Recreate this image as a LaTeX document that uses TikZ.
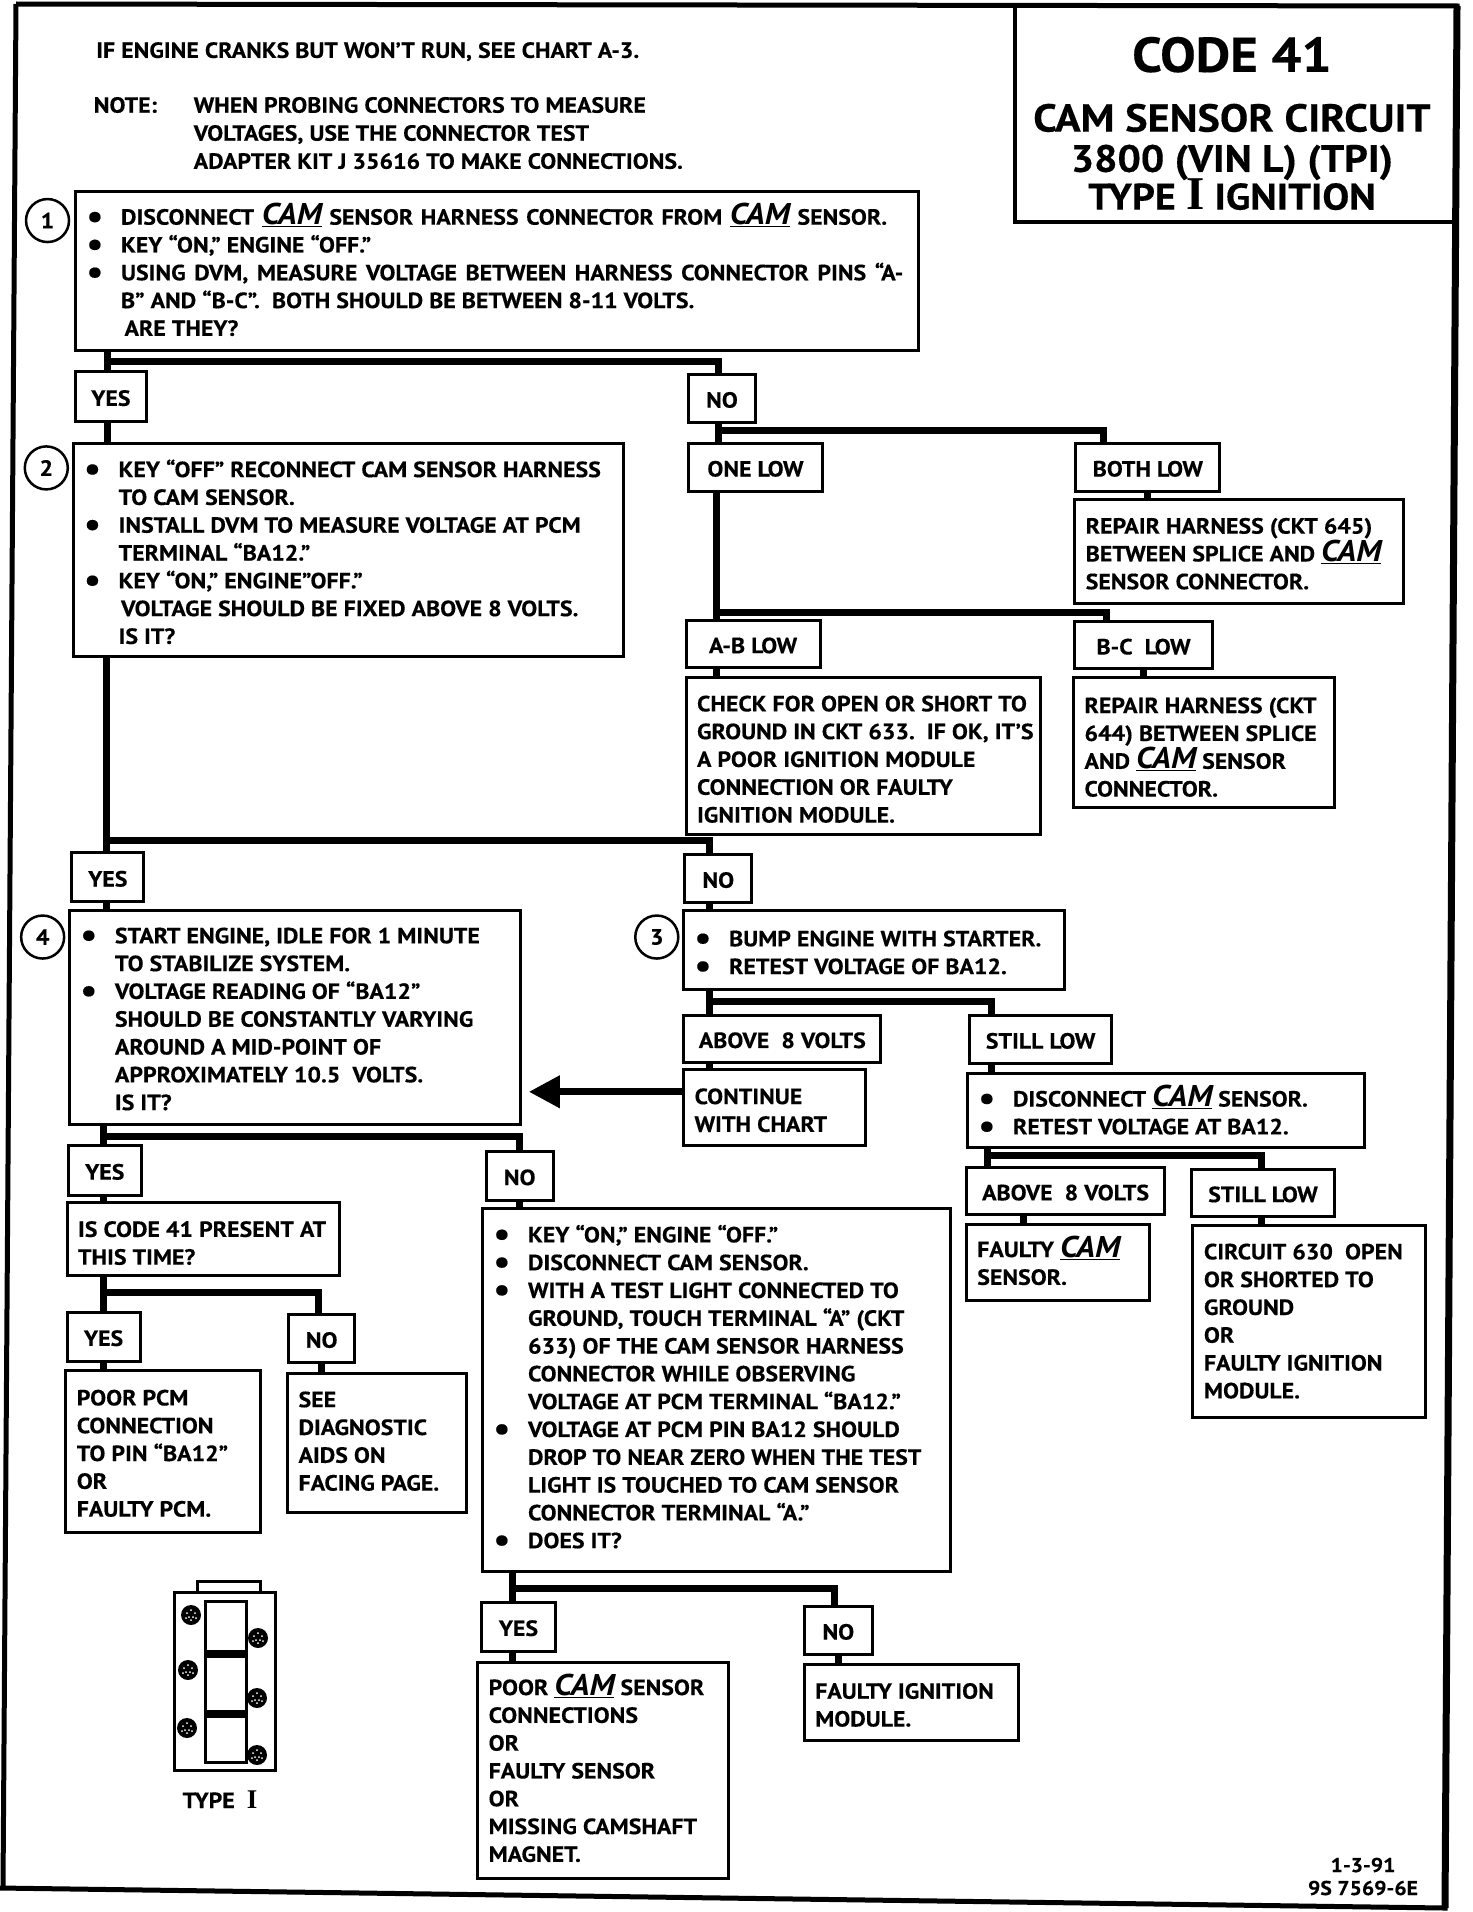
\documentclass[tikz,border=0pt]{standalone}
\usepackage{fontspec}
\setmainfont{PT Sans}[FakeStretch=1.085,BoldFeatures={FakeBold=0.35}]
\newfontfamily\serifI{Liberation Serif}
\usetikzlibrary{arrows.meta}
\newcommand{\cam}{\smash{\underline{\fontsize{30}{30}\selectfont\itshape CAM}}}
\newcommand{\bl}{\makebox[34.5pt][l]{\raisebox{-3pt}[0pt][0pt]{\fontsize{34}{34}\selectfont•}}}
\newcommand{\bi}{\hspace*{34.5pt}}
\tikzset{
 boxed/.style={draw=black,line width=3pt,fill=white,inner xsep=11pt,inner ysep=0pt,outer sep=0pt,font=\fontsize{22}{27.8}\selectfont\bfseries},
 lab/.style={draw=black,line width=3pt,fill=white,inner sep=0pt,outer sep=0pt,align=center,font=\fontsize{22}{27.8}\selectfont\bfseries},
 plain/.style={inner sep=0pt,outer sep=0pt,anchor=base west,font=\fontsize{22}{27.8}\selectfont\bfseries},
 ttl/.style={inner sep=0pt,outer sep=0pt,anchor=base},
 conn/.style={line width=7pt},
 num/.style={draw=black,line width=2.5pt,circle,minimum size=43pt,inner sep=0pt,outer sep=0pt,font=\fontsize{22}{22}\selectfont\bfseries},
 frame/.style={line width=5pt,line join=miter},
 pin/.style={circle,fill=black,minimum size=20pt,inner sep=0pt},
}
\newcommand{\bx}[7][2.6]{%
 \pgfmathsetmacro\bw{(#5-#3)*1.2185}%
 \pgfmathsetmacro\bh{(#6-#4)*1.2185}%
 \pgfmathsetmacro\tw{\bw-22}%
 \node[boxed,minimum width=\bw pt,minimum height=\bh pt] (#2) at ({(#3+#5)/2},{(#4+#6)/2}) {\makebox[\tw pt][l]{\raisebox{\dimexpr-#1pt-1pt\relax}[\height][\depth]{\begin{tabular}{@{}l@{}}#7\end{tabular}}}};}
\newcommand{\lb}[6]{%
 \pgfmathsetmacro\bw{(#4-#2)*1.2185}%
 \pgfmathsetmacro\bh{(#5-#3)*1.2185}%
 \node[lab,minimum width=\bw pt,minimum height=\bh pt] (#1) at ({(#2+#4)/2},{(#3+#5)/2}) {\raisebox{-1.5pt}[\height][\depth]{#6}};}
\begin{document}
\begin{tikzpicture}[x=1.2185pt,y=-1.2185pt]
\useasboundingbox (0,0) rectangle (1208.04,1569.13);
\begin{scope}[x=1pt,y=-1pt]
 \draw[frame] (16,4) -- (1457,6) -- (1445,1908) -- (0,1888);
 \draw[frame] (16,4) -- (3,1889);
 \draw[line width=7pt] (1457,6) -- (1445,1908);
 \node[inner sep=0pt,outer sep=0pt,minimum width=442pt,minimum height=218pt] (title) at (1236,113) {};
 \draw[line width=3.5pt] (title.north west) |- (title.south east);
\end{scope}
\node[ttl,font=\fontsize{49}{49}\selectfont\bfseries] (t1) at (1011,59) {CODE 41};
\node[ttl,font=\fontsize{39}{39}\selectfont\bfseries] (t2) at (1011,108) {CAM SENSOR CIRCUIT};
\node[ttl,font=\fontsize{38}{38}\selectfont\bfseries] (t3) at (1011,141) {3800\ (VIN L)\ (TPI)};
\node[ttl,font=\fontsize{37}{37}\selectfont\bfseries] (t4) at (1011,172) {TYPE {\serifI\fontsize{47}{47}\selectfont I} IGNITION};
\node[plain] (n1) at (79,47.5) {IF ENGINE CRANKS BUT WON’T RUN, SEE CHART A-3.};
\node[plain] (n2) at (77,92.5) {NOTE:};
\node[plain] (n3) at (159,92.5) {WHEN PROBING CONNECTORS TO MEASURE};
\node[plain] (n4) at (159,115.5) {VOLTAGES, USE THE CONNECTOR TEST};
\node[plain] (n5) at (159,138.5) {ADAPTER KIT J 35616 TO MAKE CONNECTIONS.};
% connectors
\coordinate (j1) at (88,297);
\coordinate (j2) at (590,353);
\coordinate (j3) at (588,503);
\coordinate (j4) at (87,690);
\coordinate (j5) at (582,822);
\coordinate (j6) at (810,948);
\coordinate (j7) at (85,933);
\coordinate (j8) at (85,1061);
\coordinate (j9) at (421,1304);
\coordinate (tip) at (434,896);
% boxes
\bx{b1}{62}{157}{754}{288}{\bl\spaceskip=7.6pt DISCONNECT \cam\ SENSOR HARNESS CONNECTOR FROM \cam\ SENSOR.\\\bl KEY “ON,” ENGINE “OFF.”\\\bl\spaceskip=8.6pt USING DVM, MEASURE VOLTAGE BETWEEN HARNESS CONNECTOR PINS “A-\\\bi B” AND “B-C”.\ \ BOTH SHOULD BE BETWEEN 8-11 VOLTS.\\\hspace*{38pt}ARE THEY?}
\lb{yes1}{62}{305}{120}{346}{YES}
\lb{no1}{565}{307}{620}{347}{NO}
\bx[3.8]{b2}{60}{364}{512}{539}{\bl KEY “OFF” RECONNECT CAM SENSOR HARNESS\\\bi TO CAM SENSOR.\\\bl INSTALL DVM TO MEASURE VOLTAGE AT PCM\\\bi TERMINAL “BA12.”\\\bl KEY “ON,” ENGINE”OFF.”\\\hspace*{37pt}VOLTAGE SHOULD BE FIXED ABOVE 8 VOLTS.\\\bi IS IT?}
\lb{onelow}{565}{364}{675}{403}{ONE LOW}
\lb{bothlow}{883}{364}{1001}{403}{BOTH LOW}
\bx[3.5]{rep1}{882}{410}{1152}{495}{REPAIR HARNESS (CKT 645)\\BETWEEN SPLICE AND \cam\\SENSOR CONNECTOR.}
\lb{ablow}{563}{509}{673}{548}{A-B LOW}
\lb{bclow}{882}{510}{995}{549}{B-C\ \ LOW}
\bx[4.3]{chk}{563}{556}{854}{685}{CHECK FOR OPEN OR SHORT TO\\GROUND IN CKT 633.\ \ IF OK, IT’S\\A POOR IGNITION MODULE\\CONNECTION OR FAULTY\\IGNITION MODULE.}
\bx[5.6]{rep2}{881}{556}{1095}{663}{REPAIR HARNESS (CKT\\644) BETWEEN SPLICE\\AND \cam\ SENSOR\\CONNECTOR.}
\lb{yes2}{59}{700}{118}{740}{YES}
\lb{no2}{562}{701}{617}{741}{NO}
\bx[2.7]{b4}{57}{747}{427}{923}{\bl START ENGINE, IDLE FOR 1 MINUTE\\\bi TO STABILIZE SYSTEM.\\\bl VOLTAGE READING OF “BA12”\\\bi SHOULD BE CONSTANTLY VARYING\\\bi AROUND A MID-POINT OF\\\bi APPROXIMATELY 10.5\ \ VOLTS.\\\bi IS IT?}
\bx[3.8]{b3}{561}{747}{874}{812}{\bl BUMP ENGINE WITH STARTER.\\\bl RETEST VOLTAGE OF BA12.}
\lb{above1}{561}{833}{723}{872}{ABOVE\ \ 8 VOLTS}
\lb{still1}{796}{833}{912}{873}{STILL LOW}
\bx[3.8]{cont}{561}{878}{710}{940}{CONTINUE\\WITH CHART}
\bx[3.2]{disc}{794}{881}{1120}{942}{\bl DISCONNECT \cam\ SENSOR.\\\bl RETEST VOLTAGE AT BA12.}
\lb{above2}{793}{958}{956}{997}{ABOVE\ \ 8 VOLTS}
\lb{still2}{978}{960}{1095}{998}{STILL LOW}
\bx[2]{fcam}{793}{1005}{943}{1067}{FAULTY \cam\\SENSOR.}
\bx[0.8]{circ}{979}{1006}{1170}{1163}{CIRCUIT 630\ \ OPEN\\OR SHORTED TO\\GROUND\\OR\\FAULTY IGNITION\\MODULE.}
\lb{yes3}{56}{940}{116}{981}{YES}
\lb{no3}{399}{945}{454}{985}{NO}
\bx[5]{code}{55}{987}{279}{1047}{IS CODE 41 PRESENT AT\\THIS TIME?}
\lb{yes4}{55}{1077}{115}{1117}{YES}
\lb{no4}{237}{1079}{291}{1118}{NO}
\bx{ppcm}{54}{1125}{214}{1258}{POOR PCM\\CONNECTION\\TO PIN “BA12”\\OR\\FAULTY PCM.}
\bx[-0.4]{see}{236}{1127}{383}{1241}{SEE\\DIAGNOSTIC\\AIDS ON\\FACING PAGE.}
\bx[-1.6]{big}{396}{992}{780}{1290}{\bl KEY “ON,” ENGINE “OFF.”\\\bl DISCONNECT CAM SENSOR.\\\bl WITH A TEST LIGHT CONNECTED TO\\\bi GROUND, TOUCH TERMINAL “A” (CKT\\\bi 633) OF THE CAM SENSOR HARNESS\\\bi CONNECTOR WHILE OBSERVING\\\bi VOLTAGE AT PCM TERMINAL “BA12.”\\\bl VOLTAGE AT PCM PIN BA12 SHOULD\\\bi DROP TO NEAR ZERO WHEN THE TEST\\\bi LIGHT IS TOUCHED TO CAM SENSOR\\\bi CONNECTOR TERMINAL “A.”\\\bl DOES IT?}
\lb{yes5}{395}{1315}{456}{1355}{YES}
\lb{no5}{660}{1318}{716}{1358}{NO}
\bx[1.4]{pcam}{392}{1364}{598}{1542}{POOR \cam\ SENSOR\\CONNECTIONS\\OR\\FAULTY SENSOR\\OR\\MISSING CAMSHAFT\\MAGNET.}
\bx[3.8]{fign}{660}{1366}{836}{1428}{FAULTY IGNITION\\MODULE.}
% connector lines
\draw[conn] (b1.south -| j1) -- (yes1.north -| j1);
\draw[conn] (j1) -| (no1.north -| j2);
\draw[conn] (yes1.south -| j1) -- (b2.north -| j1);
\draw[conn] (no1.south -| j2) -- (onelow.north -| j2);
\draw[conn] (j2) -| (bothlow.north -| 906,0);
\draw[conn] (bothlow.south) -- (rep1.north -| bothlow.south);
\draw[conn] (onelow.south -| j3) -- (ablow.north -| j3);
\draw[conn] (j3) -| (bclow.north -| 908,0);
\draw[conn] (ablow.south -| j3) -- (chk.north -| j3);
\draw[conn] (bclow.south) -- (rep2.north -| bclow.south);
\draw[conn] (b2.south -| j4) -- (yes2.north -| j4);
\draw[conn] (j4) -| (no2.north -| j5);
\draw[conn] (yes2.south -| j4) -- (b4.north -| j4);
\draw[conn] (no2.south -| j5) -- (b3.north -| j5);
\draw[conn] (b3.south -| j5) -- (above1.north -| j5);
\draw[conn] (j5) -| (still1.north -| 814,0);
\draw[conn] (above1.south -| j5) -- (cont.north -| j5);
\draw[conn] (still1.south -| 814,0) -- (disc.north -| 814,0);
\draw[conn,-{Triangle[length=31pt,width=31pt]}] (cont.west |- tip) -- (tip);
\draw[conn] (disc.south -| j6) -- (above2.north -| j6);
\draw[conn] (j6) -| (still2.north -| 1035,0);
\draw[conn] (above2.south -| 840,0) -- (fcam.north -| 840,0);
\draw[conn] (still2.south -| 1035,0) -- (circ.north -| 1035,0);
\draw[conn] (b4.south -| j7) -- (yes3.north -| j7);
\draw[conn] (j7) -| (no3.north);
\draw[conn] (yes3.south -| j8) -- (code.north -| j8);
\draw[conn] (code.south -| j8) -- (yes4.north -| j8);
\draw[conn] (j8) -| (no4.north -| 261,0);
\draw[conn] (yes4.south -| j8) -- (ppcm.north -| j8);
\draw[conn] (no4.south) -- (see.north -| no4.south);
\draw[conn] (no3.south) -- (big.north -| no3.south);
\draw[conn] (big.south -| j9) -- (yes5.north -| j9);
\draw[conn] (j9) -| (no5.north -| 685,0);
\draw[conn] (yes5.south -| j9) -- (pcam.north -| j9);
\draw[conn] (no5.south) -- (fign.north -| no5.south);
% step numbers
\node[num] (c1) at (39,181) {1};
\node[num] (c2) at (38,384) {2};
\node[num] (c3) at (539,769) {3};
\node[num] (c4) at (35,769) {4};
% connector sketch
\begin{scope}[x=1pt,y=-1pt]
 \draw[line width=3pt] (197,1592) rectangle (260,1581);
 \draw[line width=3pt,fill=white] (174,1592) rectangle (275,1770);
 \draw[line width=3pt] (205,1601) rectangle (246,1762);
 \fill (205,1650) rectangle (246,1658);
 \fill (205,1710) rectangle (246,1718);
 \foreach \px/\py/\pn in {191/1615/a,258/1638/b,188/1670/c,257/1698/d,187/1728/e,257/1755/f}{
  \node[pin] (pin\pn) at (\px,\py) {};
  \foreach \dx/\dy in {-4/-2,0/-5,4/-2,-2/2,2/2,0/5,5/3,-5/3}
   \fill[white] (\px+\dx,\py+\dy) circle (1pt);
 }
 \node[ttl,font=\fontsize{22}{22}\selectfont\bfseries] (typeI) at (220,1808) {TYPE\ \ {\serifI\fontsize{27}{27}\selectfont I}};
 \node[ttl,font=\fontsize{20}{20}\selectfont\bfseries] (d1) at (1363,1872) {1-3-91};
 \node[ttl,font=\fontsize{20}{20}\selectfont\bfseries] (d2) at (1363,1895) {9S 7569-6E};
\end{scope}
\end{tikzpicture}
\end{document}
